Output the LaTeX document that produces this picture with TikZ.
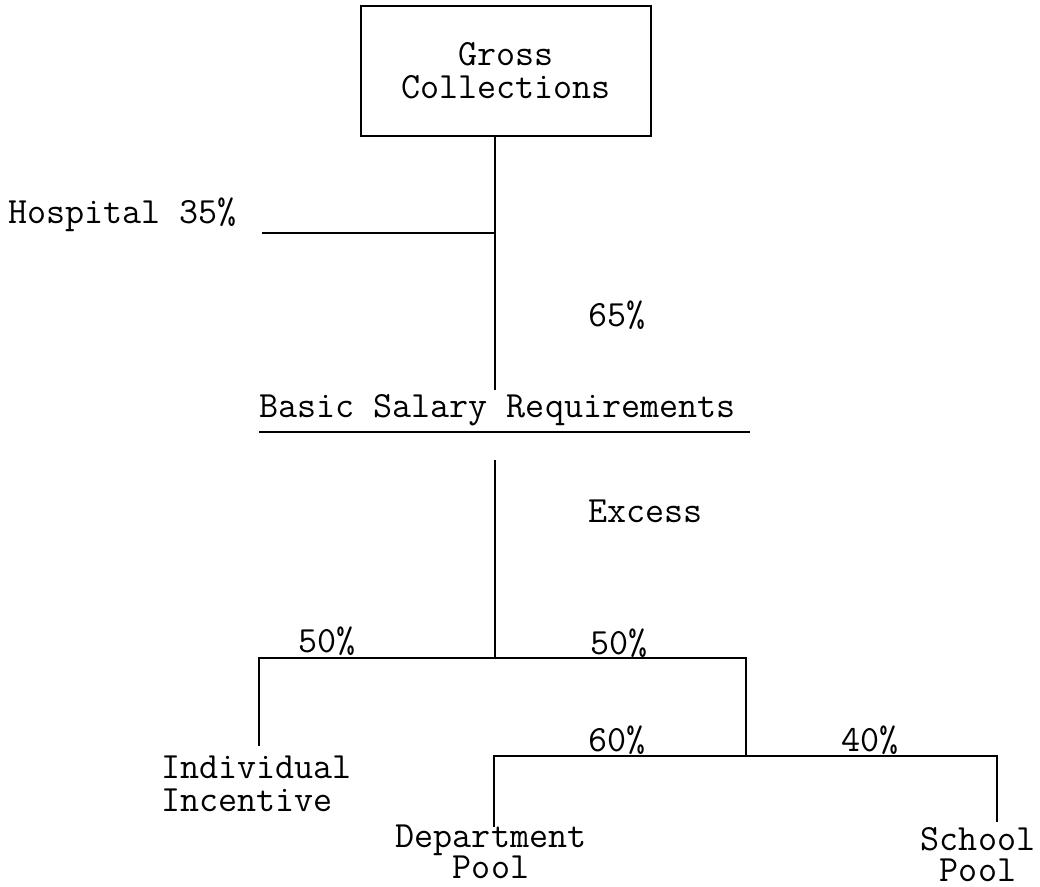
\documentclass[tikz,border=0pt]{standalone}
\usepackage{fontspec}
\usetikzlibrary{positioning}
\tikzset{
    txt/.style={
        inner sep=0pt,
        font=\fontsize{37}{33}\selectfont\ttfamily
    },
    lbl/.style={
        txt,
        anchor=base west
    },
    pool/.style={
        txt,
        font=\fontsize{37}{31}\selectfont\ttfamily,
        align=center,
        anchor=north
    },
    box/.style={
        txt, draw, line width=1.6pt,
        minimum width=290pt,
        minimum height=130pt,
        align=center
    },
    wire/.style={
        line width=1.6pt,
        line join=miter
    },
}

\begin{document}
\begin{tikzpicture}[x=1pt, y=-1pt]
    \useasboundingbox (0,0) rectangle (1040,886);

    \node[box] (gross) at (506,71) {Gross\\Collections};
    \node[lbl] (hosp) at (8,223) {Hospital 35\%};
    \node[lbl] (p65) at (588,326) {65\%};
    \node[lbl] (bsr) at (259,417) {Basic Salary Requirements};
    \node[lbl] (excess) at (588,522) {Excess};
    \node[lbl] (p50l) at (298,652) {50\%};
    \node[lbl] (p50r) at (590,654) {50\%};
    \node[lbl] (p60) at (588,751) {60\%};
    \node[lbl] (p40) at (841,751) {40\%};
    \node[txt, align=left, anchor=north west] (indiv) at (161,756) {Individual\\Incentive};
    \node[pool] (dept) at (491,825) {Department\\Pool};
    \node[pool] (school) at (978,827) {School\\Pool};

    % junctions and free ends
    \coordinate (j1) at (495,233);
    \coordinate (hl) at (262,233);
    \coordinate (t1) at (495,390);
    \coordinate (u1) at (259,432);
    \coordinate (u2) at (750,432);
    \coordinate (t2) at (495,460);
    \coordinate (j2) at (495,658);
    \coordinate (s1l) at (259,658);
    \coordinate (s1r) at (746,658);
    \coordinate (e1) at (259,746);
    \coordinate (j3) at (746,756);
    \coordinate (s2l) at (494,756);
    \coordinate (s2r) at (997,756);
    \coordinate (e2) at (494,827);
    \coordinate (e3) at (997,822);

    \draw[wire] (gross.south -| j1) -- (t1);
    \foreach \i/\j in {hl/j1, u1/u2, t2/j2}
        \draw[wire] (\i)--(\j);

    \draw[wire] (e1) -- (s1l) -- (s1r) -- (j3);
    \draw[wire] (e2) -- (s2l) -- (s2r) -- (e3);
\end{tikzpicture}
\end{document}
